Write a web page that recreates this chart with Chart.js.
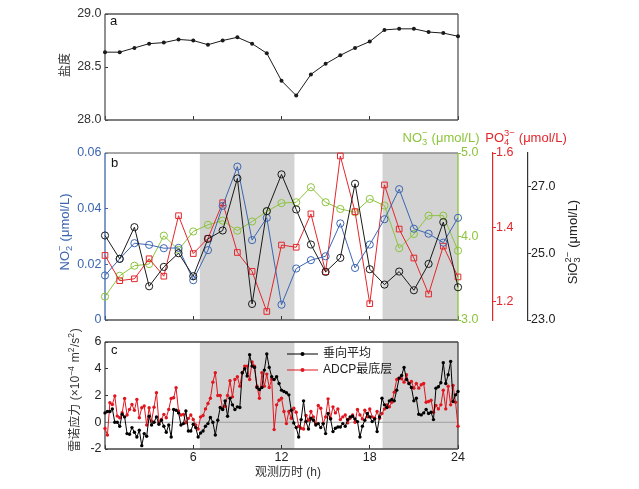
<!DOCTYPE html>
<html>
<head>
<meta charset="utf-8">
<script src="https://cdn.jsdelivr.net/npm/chart.js@4.4.0/dist/chart.umd.min.js"></script>
<style>
html, body { margin: 0; padding: 0; background: #fff; }
#wrap { position: relative; width: 639px; height: 489px; overflow: hidden; }
canvas { position: absolute; left: 0; }
</style>
</head>
<body>
<div id="wrap">
    <canvas id="chartA" width="639" height="135" style="top:0px"></canvas>
    <canvas id="chartB" width="639" height="210" style="top:125px"></canvas>
    <canvas id="chartC" width="639" height="161" style="top:328px"></canvas>
</div>
<script>
// hourly samples (panels a, b)
var hours = [0, 1, 2, 3, 4, 5, 6, 7, 8, 9, 10, 11, 12, 13, 14, 15, 16, 17, 18, 19, 20, 21, 22, 23, 24];
var salinity = [28.64, 28.64, 28.68, 28.72, 28.73, 28.76, 28.75, 28.71, 28.75, 28.78, 28.72, 28.63, 28.37, 28.23, 28.43,
    28.53, 28.61, 28.68, 28.74, 28.85, 28.86, 28.86, 28.83, 28.82, 28.79];
var no2 = [0.016, 0.022, 0.0276, 0.027, 0.0258, 0.0259, 0.0143, 0.0251, 0.041, 0.0551, 0.0287, 0.0367, 0.0055, 0.0185,
    0.0215, 0.0229, 0.0347, 0.0187, 0.0271, 0.0362, 0.047, 0.0328, 0.031, 0.0278, 0.0367];
var no3 = [3.28, 3.53, 3.65, 3.67, 4.01, 3.84, 4.06, 4.14, 4.19, 4.07, 4.18, 4.30, 4.40, 4.41, 4.59, 4.41, 4.33, 4.29,
    4.45, 4.37, 3.86, 4.03, 4.25, 4.25, 3.83];
var po4 = [1.324, 1.256, 1.261, 1.315, 1.268, 1.431, 1.329, 1.370, 1.466, 1.332, 1.281, 1.173, 1.352, 1.346, 1.436,
    1.280, 1.592, 1.442, 1.194, 1.514, 1.395, 1.317, 1.220, 1.349, 1.266];
var sio3 = [25.53, 24.83, 25.78, 24.01, 24.59, 25.0, 24.31, 25.43, 25.68, 27.24, 23.48, 26.26, 27.36, 26.31, 25.26,
    24.44, 24.86, 27.08, 24.52, 24.06, 24.45, 23.89, 24.68, 25.93, 23.98];

// shaded periods (h)
var shadeStart = [6.45, 18.87];
var shadeEnd = [12.88, 24];

// Reynolds stress, 10-min samples (panel c)
var stressStep = 1 / 6;
var stressMean = [0.7, 0.8, 0.8, 1.0, 0.0, 0.0, -0.3, 0.6, 0.4, -0.85,
    -0.9, -0.4, -0.75, -1.1, -0.6, -1.75, -0.85, -1.05, 0.45, -0.2,
    0.0, 0.4, -0.15, 0.15, -0.3, -0.75, -0.2, -1.1, 0.95, 0.9,
    0.7, -0.2, -0.1, 0.85, -0.65, -0.65, -0.15, -0.4, -1.1, -0.8,
    -0.65, -0.3, -0.1, 0.35, 0.0, -0.95, 0.15, 1.1,
    0.95, 1.6, 0.45, 1.8, 1.3, 0.95, 1.15, 1.1, 3.7, 4.0,
    3.45, 5.05, 4.2, 4.1, 2.6, 2.45, 2.6, 3.9, 5.1, 4.1,
    3.4, 3.2, 3.4, 2.9, 2.4, 2.3, 2.2, 2.05, 0.9, -0.05,
    -0.4, -1.1, 0.2, 1.6, 0.05, -0.5, 0.3, 0.15, -0.2, -0.1,
    -0.4, -0.1, -0.85, 0.65, 0.25, -0.7, -0.45, -0.35, -0.35, -0.1,
    -0.3, 0.2, 0.4, 0.45, 0.25, 0.05, -1.1, -0.3, 0.15, 0.65,
    0.4, 0.05, 0.25, -0.7, 0.4, 1.8, 1.3, 1.1, 1.6, 1.7,
    1.6, 2.4, 3.3, 3.5, 4.1, 3.2, 2.9, 2.6, 1.6, 1.8,
    0.6, 0.55, 0.7, 0.95, 0.65, 0.75, 0.2, 2.55, 2.65, 2.95,
    4.45, 2.9, 3.55, 4.55, 1.55, 2.05, 2.3];
var stressBottom = [-0.46, -0.96, 1.46, 1.33, 1.96, 0.46, 0.34, 0.71, 1.78, 0.54,
    0.96, 1.33, 0.89, 1.71, 0.34, 1.08, 1.21, -0.21, 1.08, 0.09,
    1.13, 2.21, -0.04, 0.21, 0.59, 0.34, 0.96, 1.78, 1.83, 2.58,
    0.84, 0.54, 0.59, -0.04, 0.29, 0.54, 0.21, -0.21,
    -0.5, 0.4, 0.5, 1.0, 1.4, 1.8, 3.0, 3.7, 2.0, 2.0,
    1.0, 1.2, 2.0, 3.1, 1.9, 3.2, 3.4, 2.7, 3.7, 4.2,
    4.2, 3.2, 4.5, 4.2, 2.7, 1.8, 3.7, 2.7, 3.6, 2.6,
    3.2, -0.55, 1.3, 1.65, 1.8, 0.8, -0.1, 0.8, 0.3, 1.05,
    0.75, -0.3, -0.45, -0.5, 0.5, 0.15, 0.8, 0.4, -0.1, 1.25,
    1.05, -0.1, 0.4, 1.75, 0.3, 1.15, 0.7, 1.0, 0.2, 0.4,
    0.55, -0.05, 0.3, 0.55, 0.0, 0.95, 0.55, 0.25, 0.9, 0.4,
    1.0, 0.4, 0.3, 0.8, 0.3, 0.65, 1.0, 1.3, 1.15, 1.5,
    2.25, 3.2, 3.3, 3.25, 3.0, 3.55, 2.9, 3.05, 2.55, 2.9,
    2.55, 2.8, 2.9, 1.5, 1.55, 1.65, 0.75, 1.25, 1.0, 1.3,
    2.4, 1.0, 2.7, 1.3, 2.75, 1.5, -0.3];

var FAMILY = '"Liberation Sans", Arial, "Noto Sans CJK SC", sans-serif';
var BLUE = '#3c66b1', GREEN = '#8cc43c', RED = '#e3262c', BLACK = '#1a1a1a';

Chart.defaults.font.family = FAMILY;
Chart.defaults.font.size = 12.5;

function fixTicks(values) {
    return function (scale) {
        scale.ticks = values.map(function (v) { return { value: v }; });
    };
}
function fixWidth(w) {
    return function (scale) { scale.width = w; };
}
function fixHeight(h) {
    return function (scale) { scale.height = h; };
}
function toXY(xs, ys) {
    return ys.map(function (v, i) { return { x: xs[i], y: v }; });
}
function stressXY(ys) {
    return ys.map(function (v, i) { return { x: i * stressStep, y: v }; });
}

// grey bands
var shadePlugin = {
    id: 'shade',
    beforeDraw: function (chart, args, opts) {
        if (!opts.show) return;
        var ctx = chart.ctx, a = chart.chartArea, xs = chart.scales.x;
        ctx.save();
        ctx.fillStyle = '#d3d3d3';
        for (var i = 0; i < shadeStart.length; i++) {
            var x1 = xs.getPixelForValue(shadeStart[i]);
            var x2 = xs.getPixelForValue(shadeEnd[i]);
            ctx.fillRect(x1, a.top, x2 - x1, a.bottom - a.top);
        }
        ctx.restore();
    }
};

// box round the plot, one colour per side, plus optional zero line
var framePlugin = {
    id: 'frame',
    beforeDatasetsDraw: function (chart, args, opts) {
        var ctx = chart.ctx, a = chart.chartArea;
        ctx.save();
        if (opts.zero) {
            var y0 = chart.scales.y.getPixelForValue(0);
            ctx.strokeStyle = '#9e9e9e';
            ctx.lineWidth = 1.2;
            ctx.beginPath(); ctx.moveTo(a.left, y0); ctx.lineTo(a.right, y0); ctx.stroke();
        }
        var s = opts.sides;
        ctx.lineWidth = 1.3;
        function line(c, x1, y1, x2, y2) {
            ctx.strokeStyle = c;
            ctx.beginPath(); ctx.moveTo(x1, y1); ctx.lineTo(x2, y2); ctx.stroke();
        }
        line(s.top, a.left, a.top, a.right, a.top);
        line(s.bottom, a.left, a.bottom, a.right, a.bottom);
        line(s.left, a.left, a.top, a.left, a.bottom);
        line(s.right, a.right, a.top, a.right, a.bottom);
        ctx.restore();
    }
};

function partWidth(ctx, p, size) {
    if (typeof p === 'string') {
        ctx.font = size + 'px ' + FAMILY;
        return ctx.measureText(p).width;
    }
    ctx.font = (size * 0.72) + 'px ' + FAMILY;
    var w1 = p.sub ? ctx.measureText(p.sub).width : 0;
    var w2 = p.sup ? ctx.measureText(p.sup).width : 0;
    return Math.max(w1, w2) + 0.5;
}

function drawRich(ctx, item, offset) {
    var size = item.size || 13;
    ctx.save();
    ctx.translate(item.x, item.y - offset);
    if (item.rotate) ctx.rotate(item.rotate * Math.PI / 180);
    ctx.fillStyle = item.color || '#222';
    ctx.textBaseline = 'middle';
    ctx.textAlign = 'left';
    var total = 0;
    item.parts.forEach(function (p) { total += partWidth(ctx, p, size); });
    var cx = item.align === 'left' ? 0 : (item.align === 'right' ? -total : -total / 2);
    item.parts.forEach(function (p) {
        var w = partWidth(ctx, p, size);
        if (typeof p === 'string') {
            ctx.font = size + 'px ' + FAMILY;
            ctx.fillText(p, cx, 0);
        } else {
            ctx.font = (size * 0.72) + 'px ' + FAMILY;
            if (p.sup) ctx.fillText(p.sup, cx, -size * 0.36);
            if (p.sub) ctx.fillText(p.sub, cx, size * 0.32);
        }
        cx += w;
    });
    ctx.restore();
}

// titles, panel letters and legend drawn in page coordinates
var textPlugin = {
    id: 'texts',
    afterDraw: function (chart, args, opts) {
        var ctx = chart.ctx, off = opts.offset || 0;
        (opts.legend || []).forEach(function (l) {
            ctx.save();
            ctx.strokeStyle = l.color; ctx.fillStyle = l.color; ctx.lineWidth = 1;
            ctx.beginPath(); ctx.moveTo(l.x1, l.y - off); ctx.lineTo(l.x2, l.y - off); ctx.stroke();
            ctx.beginPath(); ctx.arc((l.x1 + l.x2) / 2, l.y - off, 2, 0, Math.PI * 2); ctx.fill();
            ctx.restore();
        });
        (opts.items || []).forEach(function (it) { drawRich(ctx, it, off); });
    }
};

function xScale(height, showLabels) {
    return {
        type: 'linear', min: 0, max: 24,
        afterBuildTicks: fixTicks([0, 6, 12, 18, 24]),
        afterFit: fixHeight(height),
        ticks: {
            display: showLabels, color: '#222', padding: 5.5,
            callback: function (v) { return v === 0 ? '' : String(v); }
        },
        grid: { drawOnChartArea: false, tickLength: -4, color: '#333' },
        border: { display: false }
    };
}

function baseOptions(padding, plugins, scales) {
    plugins.legend = { display: false };
    plugins.tooltip = { enabled: false };
    return {
        responsive: false, animation: false, events: [],
        layout: { padding: padding },
        plugins: plugins,
        scales: scales
    };
}

// ---- panel a ----
new Chart(document.getElementById('chartA'), {
    type: 'line',
    data: {
        datasets: [{
            data: toXY(hours, salinity), borderColor: BLACK, borderWidth: 1,
            pointRadius: 2, pointBackgroundColor: BLACK, pointBorderWidth: 0, clip: false
        }]
    },
    options: baseOptions({ left: 0, right: 181, top: 12, bottom: 0 }, {
        shade: { show: false },
        frame: { sides: { top: '#555', bottom: '#555', left: '#555', right: '#555' } },
        texts: {
            offset: 0,
            items: [
                { parts: ['a'], x: 110, y: 21, align: 'left', size: 13, color: '#111' },
                { parts: ['盐度'], x: 66, y: 65, rotate: -90, size: 12, color: '#333' }
            ]
        }
    }, {
        x: xScale(15, false),
        y: {
            min: 28, max: 29,
            afterBuildTicks: fixTicks([28, 28.5, 29]),
            afterFit: fixWidth(105),
            ticks: { color: '#333', padding: 6.5, callback: function (v) { return v.toFixed(1); } },
            grid: { drawOnChartArea: false, tickLength: -3, color: '#333' },
            border: { display: false }
        }
    }),
    plugins: [shadePlugin, framePlugin, textPlugin]
});

// ---- panel b ----
function nutrientSet(values, axis, color, style, radius) {
    return {
        data: toXY(hours, values), yAxisID: axis, borderColor: color, borderWidth: 1,
        pointStyle: style, pointRadius: radius, pointBorderColor: color, pointBorderWidth: 1,
        pointBackgroundColor: 'rgba(0,0,0,0)', clip: false
    };
}

new Chart(document.getElementById('chartB'), {
    type: 'line',
    data: {
        datasets: [
            nutrientSet(sio3, 'ySiO3', BLACK, 'circle', 3.6),
            nutrientSet(no2, 'yNO2', BLUE, 'circle', 3.6),
            nutrientSet(po4, 'yPO4', RED, 'rect', 4),
            nutrientSet(no3, 'yNO3', GREEN, 'circle', 3.6)
        ]
    },
    options: baseOptions({ left: 0, right: 0, top: 28, bottom: 0 }, {
        shade: { show: true },
        frame: { sides: { top: '#888', bottom: '#555', left: BLUE, right: GREEN } },
        texts: {
            offset: 125,
            items: [
                { parts: ['b'], x: 111, y: 163, align: 'left', size: 13, color: '#111' },
                { parts: ['NO', { sub: '2', sup: '−' }, ' (μmol/L)'], x: 65, y: 232, rotate: -90, size: 13, color: BLUE },
                { parts: ['NO', { sub: '3', sup: '−' }, ' (μmol/L)'], x: 441, y: 138, size: 13, color: GREEN },
                { parts: ['PO', { sub: '4', sup: '3−' }, ' (μmol/L)'], x: 526, y: 138, size: 13, color: RED },
                { parts: ['SiO', { sub: '3', sup: '2−' }, ' (μmol/L)'], x: 573, y: 242, rotate: -90, size: 13, color: '#222' }
            ]
        }
    }, {
        x: xScale(15, false),
        yNO2: {
            position: 'left', min: 0, max: 0.06,
            afterBuildTicks: fixTicks([0, 0.02, 0.04, 0.06]),
            afterFit: fixWidth(105),
            ticks: { color: BLUE, padding: 6.5, callback: function (v) { return v === 0 ? '0' : v.toFixed(2); } },
            grid: { drawOnChartArea: false, tickLength: -3, color: BLUE },
            border: { display: false }
        },
        yNO3: {
            position: 'right', min: 3, max: 5,
            afterBuildTicks: fixTicks([3, 4, 5]),
            afterFit: fixWidth(35),
            ticks: { color: GREEN, padding: 0, callback: function (v) { return v.toFixed(1); } },
            grid: { drawOnChartArea: false, tickLength: 3, color: GREEN },
            border: { display: false }
        },
        yPO4: {
            position: 'right', min: 1.15, max: 1.6,
            afterBuildTicks: fixTicks([1.2, 1.4, 1.6]),
            afterFit: fixWidth(35),
            ticks: { color: RED, padding: 0, callback: function (v) { return v.toFixed(1); } },
            grid: { drawOnChartArea: false, tickLength: 3, color: RED },
            border: { display: true, color: RED, width: 1.2 }
        },
        ySiO3: {
            position: 'right', min: 23, max: 28,
            afterBuildTicks: fixTicks([23, 25, 27]),
            afterFit: fixWidth(111),
            ticks: { color: '#222', padding: 0, callback: function (v) { return v.toFixed(1); } },
            grid: { drawOnChartArea: false, tickLength: 3, color: '#333' },
            border: { display: true, color: '#333', width: 1.2 }
        }
    }),
    plugins: [shadePlugin, framePlugin, textPlugin]
});

// ---- panel c ----
new Chart(document.getElementById('chartC'), {
    type: 'line',
    data: {
        datasets: [{
            data: stressXY(stressMean), borderColor: '#000', borderWidth: 1,
            pointRadius: 1.7, pointBackgroundColor: '#000', pointBorderWidth: 0, clip: false
        }, {
            data: stressXY(stressBottom), borderColor: '#e0161f', borderWidth: 1,
            pointRadius: 1.7, pointBackgroundColor: '#e0161f', pointBorderWidth: 0, clip: false
        }]
    },
    options: baseOptions({ left: 0, right: 181, top: 14, bottom: 0 }, {
        shade: { show: true },
        frame: { zero: true, sides: { top: '#444', bottom: '#444', left: '#444', right: '#444' } },
        texts: {
            offset: 328,
            legend: [
                { x1: 287, x2: 318, y: 354, color: '#000' },
                { x1: 287, x2: 318, y: 370, color: '#e0161f' }
            ],
            items: [
                { parts: ['c'], x: 111, y: 350, align: 'left', size: 13, color: '#111' },
                { parts: ['雷诺应力 (×10', { sup: '−4' }, ' m', { sup: '2' }, '/s', { sup: '2' }, ')'], x: 76, y: 390, rotate: -90, size: 12, color: '#333' },
                { parts: ['观测历时 (h)'], x: 288, y: 473, size: 12, color: '#333' },
                { parts: ['垂向平均'], x: 323, y: 354, align: 'left', size: 12, color: '#222' },
                { parts: ['ADCP最底层'], x: 323, y: 370, align: 'left', size: 12, color: '#222' }
            ]
        }
    }, {
        x: xScale(40, true),
        y: {
            min: -2, max: 6,
            afterBuildTicks: fixTicks([-2, 0, 2, 4, 6]),
            afterFit: fixWidth(105),
            ticks: { color: '#222', padding: 6.5 },
            grid: { drawOnChartArea: false, tickLength: -3, color: '#333' },
            border: { display: false }
        }
    }),
    plugins: [shadePlugin, framePlugin, textPlugin]
});
</script>
</body>
</html>
